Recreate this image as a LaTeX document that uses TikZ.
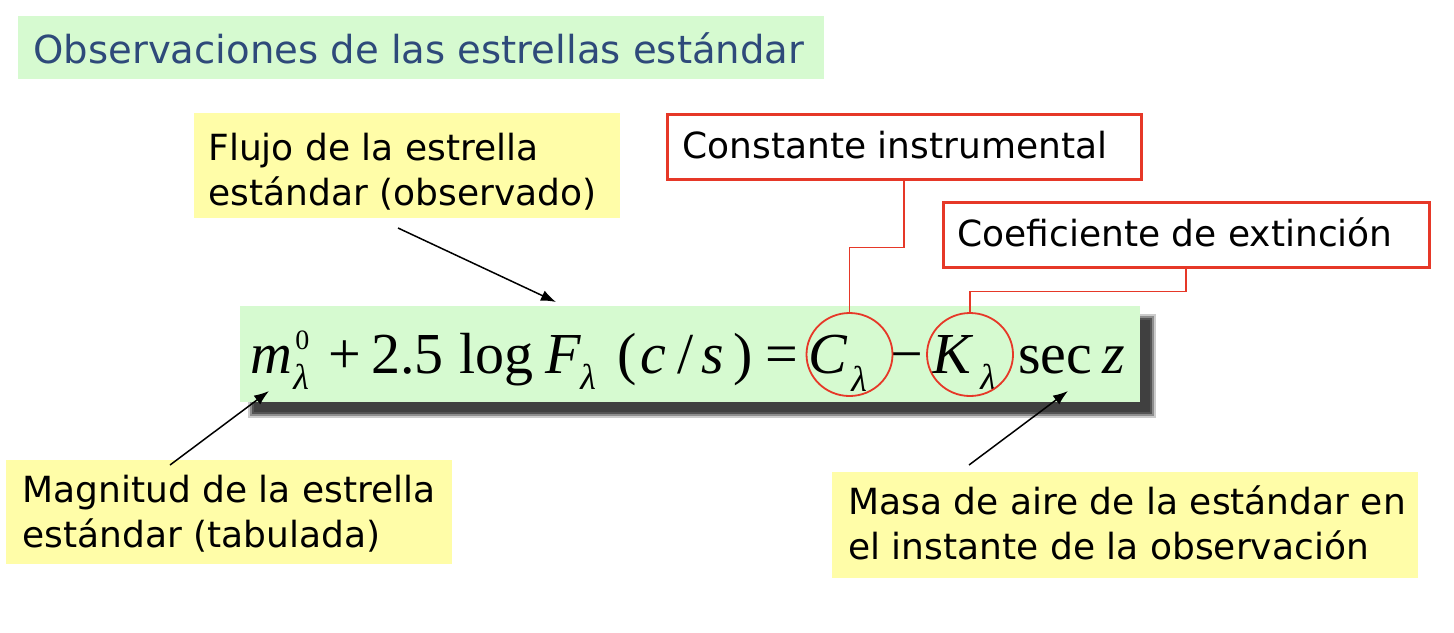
\documentclass[tikz,border=0pt]{standalone}
\usepackage{fontspec}
\setmainfont{DejaVu Sans}
\newfontfamily\eqf{Liberation Serif}
\usetikzlibrary{shapes.geometric,fit,arrows.meta}
\definecolor{eqgreen}{RGB}{214,250,208}
\definecolor{noteyellow}{RGB}{255,253,168}
\definecolor{boxred}{RGB}{230,56,40}
\definecolor{titleblue}{RGB}{46,74,122}
\tikzset{
  lbl/.style={anchor=base west, inner sep=0pt, font=\fontsize{18}{22.5}\selectfont},
  ybox/.style={fill=noteyellow, draw=none, inner sep=0pt},
  rbox/.style={fill=white, draw=boxred, line width=1.5pt, inner sep=0pt},
  eqm/.style={anchor=base west, inner sep=0pt, font=\eqf\fontsize{29}{34}\selectfont},
  eqs/.style={anchor=base west, inner sep=0pt, text height=8pt, text depth=0pt, font=\eqf\fontsize{18}{21}\selectfont},
  eqsup/.style={anchor=base west, inner sep=0pt, font=\eqf\fontsize{14}{17}\selectfont},
  ring/.style={ellipse, draw=boxred, line width=0.9pt, minimum width=43pt, minimum height=41.5pt, inner sep=0pt},
  redlink/.style={draw=boxred, line width=0.9pt},
  pointer/.style={draw=black, line width=0.75pt, -{Latex[length=7.5pt,width=5.5pt]}}
}
\begin{document}
\begin{tikzpicture}[x=0.5pt,y=-0.5pt]
\useasboundingbox (0,0) rectangle (1454,632);
\fill[white] (0,0) rectangle (1454,632);

% title
\node[fill=eqgreen, inner sep=0pt, fit={(18,16)(824,79)}] (titlebox) {};
\node[anchor=base west, inner sep=0pt, text=titleblue, font=\fontsize{19.3}{23}\selectfont] (title) at (33,63) {Observaciones de las estrellas estándar};

% yellow notes
\node[ybox, fit={(194,113)(620,218)}] (flujo) {};
\node[lbl] (flujoT) at (208,160) {\begin{tabular}[t]{@{}l@{}}Flujo de la estrella\\estándar (observado)\end{tabular}};

\node[ybox, fit={(6,460)(452,564)}] (magn) {};
\node[lbl] (magnT) at (22,502) {\begin{tabular}[t]{@{}l@{}}Magnitud de la estrella\\estándar (tabulada)\end{tabular}};

\node[ybox, fit={(832,472)(1418,578)}] (masa) {};
\node[lbl] (masaT) at (848,514) {\begin{tabular}[t]{@{}l@{}}Masa de aire de la estándar en\\el instante de la observación\end{tabular}};

% red boxes
\node[rbox, fit={(667,114)(1141,179)}] (cbox) {};
\node[lbl] (cboxT) at (682,158) {Constante instrumental};
\node[rbox, fit={(943,202)(1429,267)}] (kbox) {};
\node[lbl] (kboxT) at (957,246) {Coeficiente de extinción};

% equation shadow
\fill[black, opacity=0.2] (248,314) rectangle (1156,418);
\fill[black, opacity=0.3] (250,316) rectangle (1154,416);
\fill[black, opacity=0.4] (252,318) rectangle (1152,414);
\fill[black!75] (254,320) rectangle (1150,412);
% equation box
\node[fill=eqgreen, inner sep=0pt, fit={(240,306)(1140,402)}] (eqbox) {};

% equation pieces
\node[eqm] (e1) at (250,373) {\itshape m};
\node[eqsup] (e2) at (295,349) {0};
\node[eqs] (e3) at (293,389) {\itshape λ};
\node[eqm] (e4) at (328,373) {+};
\node[eqm] (e5) at (371,373) {2.5};
\node[eqm] (e6) at (459,373) {log};
\node[eqm] (e7) at (545,373) {\itshape F};
\node[eqs] (e8) at (580,389) {\itshape λ};
\node[eqm] (e9) at (617,373) {(};
\node[eqm] (e10) at (640,373) {\itshape c};
\node[eqm] (e11) at (677,373) {/};
\node[eqm] (e12) at (701,373) {\itshape s};
\node[eqm] (e13) at (733,373) {)};
\node[eqm] (e14) at (765,373) {=};
\node[eqm] (e15) at (808,373) {\itshape C};
\node[eqs] (e16) at (851,391) {\itshape λ};
\node[eqm] (e17) at (890,373) {−};
\node[eqm] (e18) at (932,373) {\itshape K};
\node[eqs] (e19) at (980,389) {\itshape λ};
\node[eqm] (e20) at (1018,373) {sec};
\node[eqm] (e21) at (1102,373) {\itshape z};

% rings
\node[ring] (cC) at (849.5,354.5) {};
\node[ring] (cK) at (970,354.5) {};

% red connectors
\draw[redlink] (cbox.south) -- ++(0,67) -| (cC.north);
\draw[redlink] (kbox.south) -- ++(0,23) -| (cK.north);

% pointers
\coordinate (flujoTail) at (398,228);
\coordinate (flujoTip) at (556,302);
\coordinate (magnTail) at (170,465);
\coordinate (magnTip) at (269,391);
\coordinate (masaTail) at (969,465);
\coordinate (masaTip) at (1068,391);
\draw[pointer] (flujoTail) -- (flujoTip);
\draw[pointer] (magnTail) -- (magnTip);
\draw[pointer] (masaTail) -- (masaTip);
\end{tikzpicture}
\end{document}
